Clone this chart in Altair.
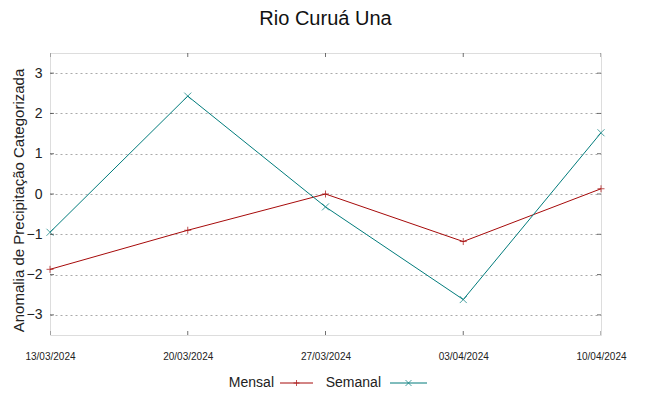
import altair as alt
import pandas as pd

dates = ["13/03/2024", "20/03/2024", "27/03/2024", "03/04/2024", "10/04/2024"]
mensal = [-1.87, -0.90, 0.00, -1.18, 0.13]
semanal = [-0.95, 2.43, -0.32, -2.62, 1.52]
series = ["Mensal", "Semanal"]
colors = ["#a60a0a", "#007b7b"]
y_ticks = [-3, -2, -1, 0, 1, 2, 3]

rows = []
for d, v in zip(dates, mensal):
    rows.append({"date": d, "serie": "Mensal", "value": v})
for d, v in zip(dates, semanal):
    rows.append({"date": d, "serie": "Semanal", "value": v})
df = pd.DataFrame(rows)
xt = pd.DataFrame({"date": dates})
yt = pd.DataFrame({"value": y_ticks})

W, H = 551, 282
PLUS = "M-1,0H1M0,-1V1"
CROSS = "M-1,-1L1,1M-1,1L1,-1"

xs = alt.X("date:N", sort=dates,
           scale=alt.Scale(type="point", padding=0, domain=dates),
           axis=alt.Axis(title=None, labelAngle=0, ticks=False, domain=False,
                         labelFontSize=10, labelFont="Liberation Sans",
                         labelColor="#222", labelPadding=16))
xs2 = alt.X("date:N", sort=dates)
ys = alt.Y("value:Q", scale=alt.Scale(domain=[-3.5, 3.5], nice=False, zero=False),
           axis=alt.Axis(values=y_ticks, title="Anomalia de Precipitação Categorizada",
                         ticks=False, domain=False, labelFontSize=14,
                         labelFont="Liberation Sans", labelColor="#222",
                         labelPadding=8, titleFontSize=15, titleFont="Liberation Sans",
                         titleFontWeight="normal", titleColor="#222",
                         titleX=-32, titleY=147, titleBaseline="middle", titleAngle=270,
                         grid=True, gridDash=[2, 3], gridColor="#aaaaaa"))
col = alt.Color("serie:N", scale=alt.Scale(domain=series, range=colors), legend=None)

lines = alt.Chart(df).mark_line(strokeWidth=1).encode(x=xs, y=ys, color=col)
points = alt.Chart(df).mark_point(filled=False, strokeWidth=1, size=49).encode(
    x=xs2, y="value:Q", color=col,
    shape=alt.Shape("serie:N", scale=alt.Scale(domain=series, range=[PLUS, CROSS]), legend=None))

tick_color = "#333"
xb = alt.Chart(xt).mark_tick(orient="vertical", size=8, thickness=1, clip=True, color=tick_color).encode(
    x=xs2, y=alt.value(H))
xtp = alt.Chart(xt).mark_tick(orient="vertical", size=8, thickness=1, clip=True, color=tick_color).encode(
    x=xs2, y=alt.value(0))
yl = alt.Chart(yt).mark_tick(orient="horizontal", size=8, thickness=1, clip=True, color=tick_color).encode(
    y="value:Q", x=alt.value(0))
yr = alt.Chart(yt).mark_tick(orient="horizontal", size=8, thickness=1, clip=True, color=tick_color).encode(
    y="value:Q", x=alt.value(W))

# custom legend (label first, then sample) like the original
leg_y = 330
leg = []
entries = [("Mensal", colors[0], PLUS, 224, 230, 263), ("Semanal", colors[1], CROSS, 331, 340, 377)]
for name, c, shp, tx, l1, l2 in entries:
    leg.append(alt.Chart(pd.DataFrame({"t": [name]})).mark_text(
        align="right", baseline="middle", fontSize=14, font="Liberation Sans", color="#222").encode(
        text="t:N", x=alt.value(tx), y=alt.value(leg_y)))
    leg.append(alt.Chart(pd.DataFrame({"t": [name]})).mark_rule(color=c, strokeWidth=1).encode(
        x=alt.value(l1), x2=alt.value(l2), y=alt.value(leg_y)))
    leg.append(alt.Chart(pd.DataFrame({"t": [name]})).mark_point(
        shape=shp, filled=False, size=36, strokeWidth=1, color=c).encode(
        x=alt.value((l1 + l2) / 2), y=alt.value(leg_y)))

chart = alt.layer(lines, points, xb, xtp, yl, yr, *leg).properties(
    width=W, height=H,
    title=alt.Title("Rio Curuá Una", fontSize=20, font="Liberation Sans", fontWeight="normal",
                    color="#111", offset=24, anchor="middle"),
    padding={"left": 42, "top": 45, "right": 40, "bottom": 60},
    autosize=alt.AutoSizeParams(type="none"),
).configure_view(stroke="#555", strokeWidth=1).configure(background="white")

chart.save("out.html", embed_options={"renderer": "svg", "actions": False})
